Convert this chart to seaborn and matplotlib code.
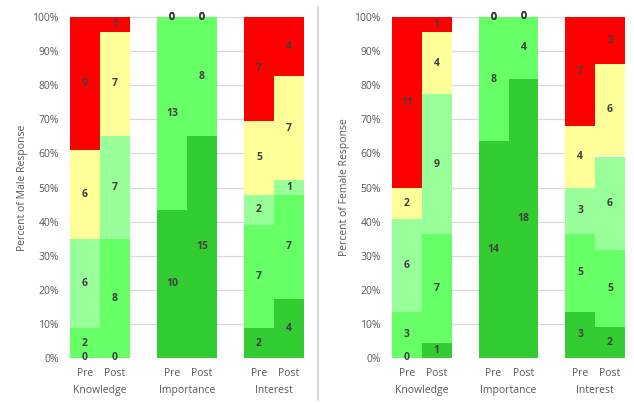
import matplotlib
matplotlib.use('Agg')
import matplotlib.pyplot as plt
import matplotlib.transforms as mtransforms
import seaborn as sns
import numpy as np

#---data: counts per response level, order = Knowledge Pre, Knowledge Post, Importance Pre, Importance Post, Interest Pre, Interest Post
groups = ['Knowledge', 'Importance', 'Interest']
phases = ['Pre', 'Post']

# levels from bottom (dark green) to top (red)
male_dkgreen = [0, 0, 10, 15, 2, 4]
male_green = [2, 8, 13, 8, 7, 7]
male_ltgreen = [6, 7, 0, 0, 2, 1]
male_yellow = [6, 7, 0, 0, 5, 7]
male_red = [9, 1, 0, 0, 7, 4]

female_dkgreen = [0, 1, 14, 18, 3, 2]
female_green = [3, 7, 8, 4, 5, 5]
female_ltgreen = [6, 9, 0, 0, 3, 6]
female_yellow = [2, 4, 0, 0, 4, 6]
female_red = [11, 1, 0, 0, 7, 3]

level_colors = ['#33CC33', '#66FF66', '#99FF99', '#FFFF99', '#FF0000']

sns.set_theme(style='white')
plt.rcParams['font.family'] = ['Open Sans', 'DejaVu Sans']

fig = plt.figure(figsize=(6.34, 4.03), dpi=100)

# bar positions: pairs of bars per group, gap between groups
centers = np.array([0, 2.9, 5.8])
xpos = np.ravel([[c - 0.5, c + 0.5] for c in centers])


def draw_panel(ax, layers, ylabel):
    totals = np.sum(layers, axis=0)
    bottom = np.zeros(len(xpos))
    for vals, col in zip(layers, level_colors):
        pct = np.array(vals) / totals * 100
        ax.bar(xpos, pct, bottom=bottom, width=1.0, color=col, edgecolor='none', zorder=2)
        for x, v, b, p in zip(xpos, vals, bottom, pct):
            ax.text(x, b + p / 2, str(v), ha='center', va='center', fontsize=7.5,
                    color='#404040', fontweight='bold', zorder=3)
        bottom = bottom + pct
    ax.set_xlim(-1, 6.8)
    ax.set_ylim(0, 100)
    ax.set_yticks(range(0, 101, 10))
    ax.set_yticklabels([f'{t}%' for t in range(0, 101, 10)], fontsize=7.5, color='#595959')
    ax.tick_params(axis='y', length=0, pad=8)
    ax.set_xticks([])
    for y in range(0, 101, 10):
        ax.axhline(y, color='#D9D9D9', lw=0.9, zorder=1)
    for s in ax.spines.values():
        s.set_visible(False)
    ax.set_ylabel(ylabel, fontsize=7.5, color='#595959', labelpad=3)
    trans = mtransforms.blended_transform_factory(ax.transData, ax.transAxes)
    for i, x in enumerate(xpos):
        ax.text(x, -0.045, phases[i % 2], transform=trans, ha='center', va='center',
                fontsize=7.5, color='#595959')
    for c, g in zip(centers, groups):
        ax.text(c, -0.095, g, transform=trans, ha='center', va='center',
                fontsize=7.5, color='#595959')


ax1 = fig.add_axes([70 / 634, 45 / 403, 234 / 634, 341 / 403])
draw_panel(ax1, [male_dkgreen, male_green, male_ltgreen, male_yellow, male_red],
           'Percent of Male Response')

ax2 = fig.add_axes([392 / 634, 45 / 403, 233 / 634, 341 / 403])
draw_panel(ax2, [female_dkgreen, female_green, female_ltgreen, female_yellow, female_red],
           'Percent of Female Response')

# divider line between the two panels
fig.add_artist(plt.Line2D([318 / 634, 318 / 634], [3 / 403, 396 / 403], color='#D0D0D0', lw=1.2))

fig.savefig('out.png', dpi=100)
